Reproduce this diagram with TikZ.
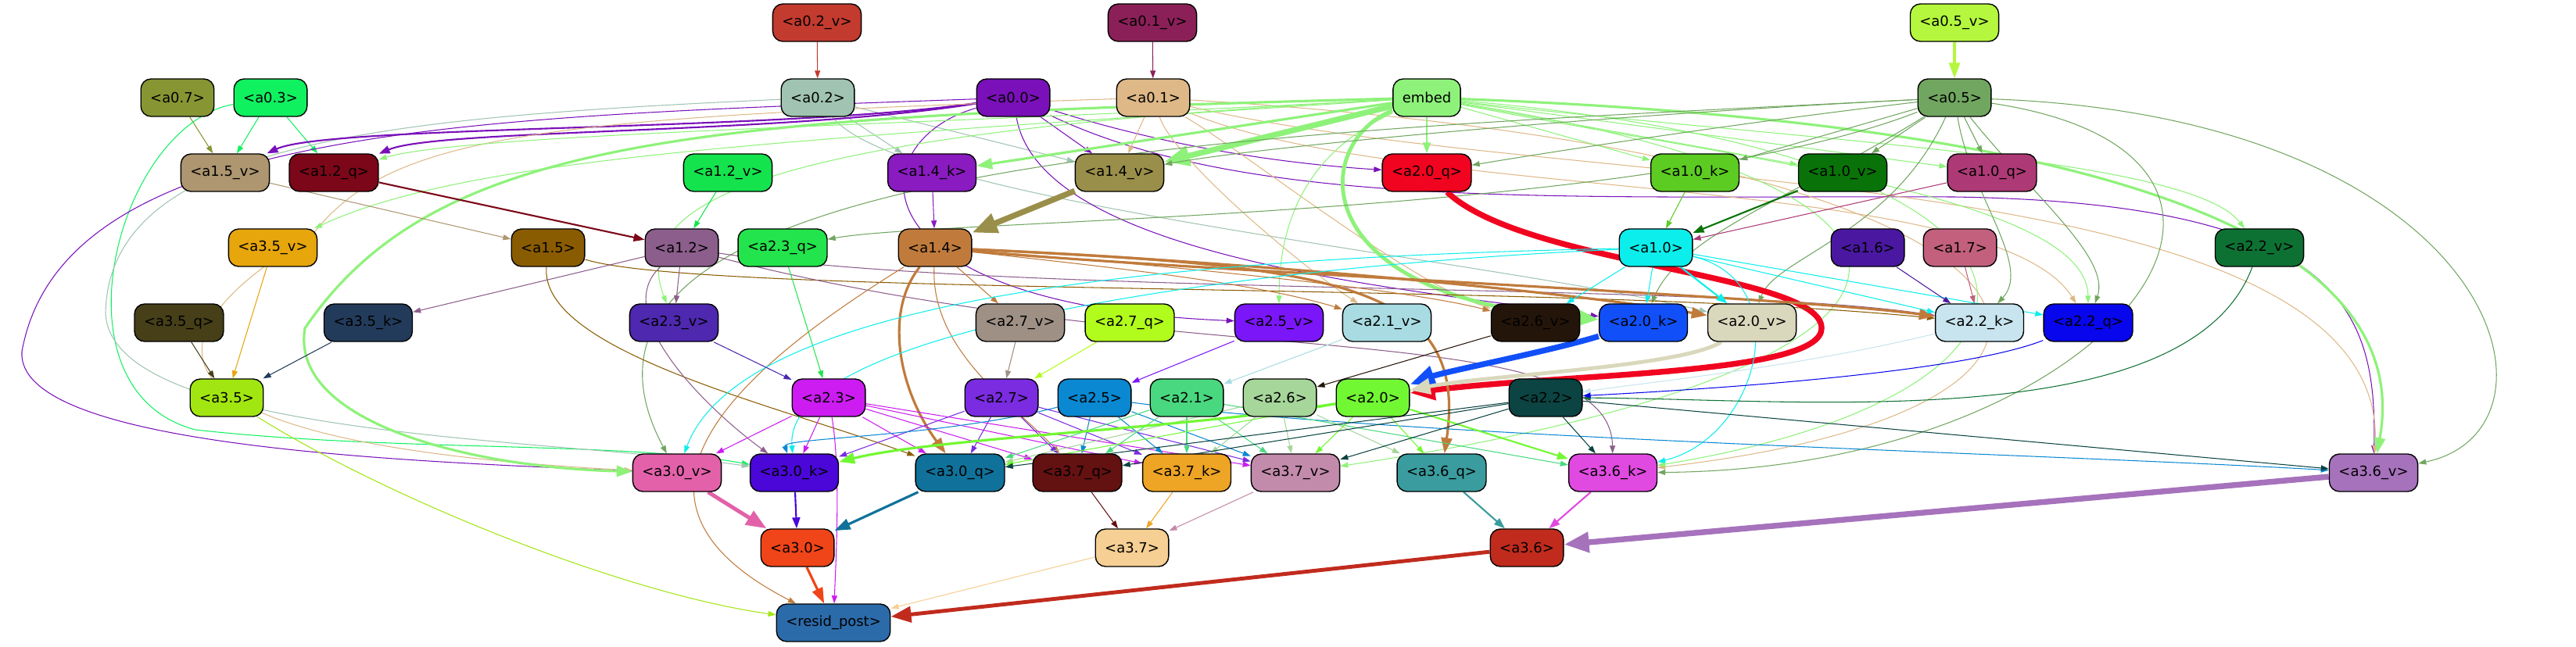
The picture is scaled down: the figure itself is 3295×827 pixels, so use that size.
\documentclass[tikz,border=0pt]{standalone}
\usepackage{fontspec}
\setmainfont{DejaVu Sans}
\usetikzlibrary{arrows.meta}
\pgfdeclarelayer{background}
\pgfsetlayers{background,main}

% node colours (edges take the colour of their source)
\definecolor{c02v}{HTML}{C33A2E}
\definecolor{c01v}{HTML}{8B2058}
\definecolor{c05v}{HTML}{B4F73E}
\definecolor{c07}{HTML}{879633}
\definecolor{c03}{HTML}{10F160}
\definecolor{c02}{HTML}{A0C4B1}
\definecolor{c00}{HTML}{7A10B9}
\definecolor{c01}{HTML}{DEB887}
\definecolor{cemb}{HTML}{8EF27A}
\definecolor{c05}{HTML}{71A660}
\definecolor{c15v}{HTML}{AD9670}
\definecolor{c12q}{HTML}{7C0719}
\definecolor{c12v}{HTML}{14E34E}
\definecolor{c14k}{HTML}{8A1BC0}
\definecolor{c14v}{HTML}{9A8F4A}
\definecolor{c20q}{HTML}{F0041F}
\definecolor{c10k}{HTML}{5CCB22}
\definecolor{c10v}{HTML}{097309}
\definecolor{c10q}{HTML}{AD3A76}
\definecolor{c35v}{HTML}{E6A60C}
\definecolor{c15}{HTML}{8A5C01}
\definecolor{c12}{HTML}{8C5E8C}
\definecolor{c23q}{HTML}{23E44C}
\definecolor{c14}{HTML}{C07B3C}
\definecolor{c10}{HTML}{0CEEEC}
\definecolor{c16}{HTML}{4A18A0}
\definecolor{c17}{HTML}{C3607E}
\definecolor{c22v}{HTML}{0E7134}
\definecolor{c35q}{HTML}{463F18}
\definecolor{c35k}{HTML}{233B5B}
\definecolor{c23v}{HTML}{4E28AF}
\definecolor{c27v}{HTML}{9E9084}
\definecolor{c27q}{HTML}{B1FB1D}
\definecolor{c25v}{HTML}{7A16F8}
\definecolor{c21v}{HTML}{A8DCE2}
\definecolor{c26v}{HTML}{24150A}
\definecolor{c20k}{HTML}{1150F9}
\definecolor{c20v}{HTML}{DAD8BC}
\definecolor{c22k}{HTML}{C8E4EE}
\definecolor{c22q}{HTML}{0806EC}
\definecolor{c35}{HTML}{A1E611}
\definecolor{c23}{HTML}{CC1CF1}
\definecolor{c27}{HTML}{7B2BE0}
\definecolor{c25}{HTML}{0A88D2}
\definecolor{c21}{HTML}{49D87F}
\definecolor{c26}{HTML}{A6D69A}
\definecolor{c20}{HTML}{72F833}
\definecolor{c22}{HTML}{0B4442}
\definecolor{c30v}{HTML}{E261A9}
\definecolor{c30k}{HTML}{4A07D8}
\definecolor{c30q}{HTML}{10729A}
\definecolor{c37q}{HTML}{641111}
\definecolor{c37k}{HTML}{EEA425}
\definecolor{c37v}{HTML}{C38BAB}
\definecolor{c36q}{HTML}{3A9C9E}
\definecolor{c36k}{HTML}{E04AE0}
\definecolor{c36v}{HTML}{A672BC}
\definecolor{c30}{HTML}{F04419}
\definecolor{c37}{HTML}{F5CF93}
\definecolor{c36}{HTML}{C12B1D}
\definecolor{crp}{HTML}{2B6BAA}

\begin{document}
\begin{tikzpicture}[x=0.01cm, y=-0.01cm,
        nd/.style = {rectangle, draw=black, line width=0.4pt, rounded corners=0.13cm, minimum height=0.48cm, inner xsep=0.12cm, inner ysep=0pt, font=\fontsize{5.1}{6}\selectfont},
        ed/.style = {line width=0.3pt, -{Triangle[length=0.1cm, width=0.07cm]}},
        edb/.style = {line width=0.6pt, -{Triangle[length=0.14cm, width=0.1cm]}},
        edc/.style = {line width=0.9pt, -{Triangle[length=0.2cm, width=0.14cm]}},
        edd/.style = {line width=1.4pt, -{Triangle[length=0.26cm, width=0.2cm]}},
        ede/.style = {line width=2.1pt, -{Triangle[length=0.32cm, width=0.25cm]}}
    ]
    \useasboundingbox (0,0) rectangle (3295,827);

    % ================= ROW 0 / ROW 1 =================
    \node[nd, fill=c02v] (a02v) at (1045,29) {<a0.2\_v>};
    \node[nd, fill=c01v] (a01v) at (1474,29) {<a0.1\_v>};
    \node[nd, fill=c05v] (a05v) at (2500,29) {<a0.5\_v>};
    %
    \node[nd, fill=c07] (a07) at (227,125) {<a0.7>};
    \node[nd, fill=c03] (a03) at (346,125) {<a0.3>};
    \node[nd, fill=c02] (a02) at (1046,125) {<a0.2>};
    \node[nd, fill=c00] (a00) at (1296,125) {<a0.0>};
    \node[nd, fill=c01] (a01) at (1475,125) {<a0.1>};
    \node[nd, fill=cemb] (emb) at (1825,125) {embed};
    \node[nd, fill=c05] (a05) at (2500,125) {<a0.5>};

    % ================= ROW 2 / ROW 3 =================
    \node[nd, fill=c15v] (a15v) at (288,221) {<a1.5\_v>};
    \node[nd, fill=c12q] (a12q) at (427,221) {<a1.2\_q>};
    \node[nd, fill=c12v] (a12v) at (931,221) {<a1.2\_v>};
    \node[nd, fill=c14k] (a14k) at (1192,221) {<a1.4\_k>};
    \node[nd, fill=c14v] (a14v) at (1432,221) {<a1.4\_v>};
    \node[nd, fill=c20q] (a20q) at (1825,221) {<a2.0\_q>};
    \node[nd, fill=c10k] (a10k) at (2168,221) {<a1.0\_k>};
    \node[nd, fill=c10v] (a10v) at (2357,221) {<a1.0\_v>};
    \node[nd, fill=c10q] (a10q) at (2548,221) {<a1.0\_q>};
    %
    \node[nd, fill=c35v] (a35v) at (349,317) {<a3.5\_v>};
    \node[nd, fill=c15] (a15) at (701,317) {<a1.5>};
    \node[nd, fill=c12] (a12) at (872,317) {<a1.2>};
    \node[nd, fill=c23q] (a23q) at (1001,317) {<a2.3\_q>};
    \node[nd, fill=c14] (a14) at (1196,317) {<a1.4>};
    \node[nd, fill=c10] (a10) at (2118,317) {<a1.0>};
    \node[nd, fill=c16] (a16) at (2389,317) {<a1.6>};
    \node[nd, fill=c17] (a17) at (2507,317) {<a1.7>};
    \node[nd, fill=c22v] (a22v) at (2890,317) {<a2.2\_v>};

    % ================= ROW 4 / ROW 5 =================
    \node[nd, fill=c35q] (a35q) at (229,413) {<a3.5\_q>};
    \node[nd, fill=c35k] (a35k) at (471,413) {<a3.5\_k>};
    \node[nd, fill=c23v] (a23v) at (862,413) {<a2.3\_v>};
    \node[nd, fill=c27v] (a27v) at (1305,413) {<a2.7\_v>};
    \node[nd, fill=c27q] (a27q) at (1445,413) {<a2.7\_q>};
    \node[nd, fill=c25v] (a25v) at (1636,413) {<a2.5\_v>};
    \node[nd, fill=c21v] (a21v) at (1774,413) {<a2.1\_v>};
    \node[nd, fill=c26v] (a26v) at (1964,413) {<a2.6\_v>};
    \node[nd, fill=c20k] (a20k) at (2102,413) {<a2.0\_k>};
    \node[nd, fill=c20v] (a20v) at (2241,413) {<a2.0\_v>};
    \node[nd, fill=c22k] (a22k) at (2532,413) {<a2.2\_k>};
    \node[nd, fill=c22q] (a22q) at (2671,413) {<a2.2\_q>};
    %
    \node[nd, fill=c35] (a35) at (290,509) {<a3.5>};
    \node[nd, fill=c23] (a23) at (1060,509) {<a2.3>};
    \node[nd, fill=c27] (a27) at (1281,509) {<a2.7>};
    \node[nd, fill=c25] (a25) at (1400,509) {<a2.5>};
    \node[nd, fill=c21] (a21) at (1518,509) {<a2.1>};
    \node[nd, fill=c26] (a26) at (1637,509) {<a2.6>};
    \node[nd, fill=c20] (a20) at (1756,509) {<a2.0>};
    \node[nd, fill=c22] (a22) at (1977,509) {<a2.2>};

    % ================= ROW 6 - ROW 8 =================
    \node[nd, fill=c30v] (a30v) at (866,605) {<a3.0\_v>};
    \node[nd, fill=c30k] (a30k) at (1016,605) {<a3.0\_k>};
    \node[nd, fill=c30q] (a30q) at (1228,605) {<a3.0\_q>};
    \node[nd, fill=c37q] (a37q) at (1378,605) {<a3.7\_q>};
    \node[nd, fill=c37k] (a37k) at (1518,605) {<a3.7\_k>};
    \node[nd, fill=c37v] (a37v) at (1657,605) {<a3.7\_v>};
    \node[nd, fill=c36q] (a36q) at (1844,605) {<a3.6\_q>};
    \node[nd, fill=c36k] (a36k) at (2063,605) {<a3.6\_k>};
    \node[nd, fill=c36v] (a36v) at (3036,605) {<a3.6\_v>};
    %
    \node[nd, fill=c30] (a30) at (1020,701) {<a3.0>};
    \node[nd, fill=c37] (a37) at (1448,701) {<a3.7>};
    \node[nd, fill=c36] (a36) at (1953,701) {<a3.6>};
    \node[nd, fill=crp] (rp) at (1066,797) {<resid\_post>};

    \begin{pgfonlayer}{background}
    % ================= EDGES FROM THE TOP ROWS =================
    \draw[ed, c02v] (a02v) -- (a02);
    \draw[ed, c01v] (a01v) -- (a01);
    \draw[edc, c05v] (a05v) -- (a05);
    \draw[ed, c07] (a07) -- (a15v);
    \draw[ed, c03] (a03) -- (a15v);
    \draw[ed, c03] (a03) -- (a12q);
    \draw[ed, c03] (a03) .. controls (150,160) and (60,500) .. (250,550) .. controls (500,578) and (800,565) .. (a30k);
    % a0.2
    \draw[ed, c02] (a02) -- (a14k);
    \draw[ed, c02] (a02) -- (a14v);
    \draw[ed, c02] (a02) .. controls (500,150) and (140,180) .. (135,400) .. controls (140,560) and (700,560) .. (a30k);
    \draw[ed, c02] (a02) .. controls (1150,260) and (1900,330) .. (a20v);
    % a0.0
    \draw[edb, c00] (a00) .. controls (1000,168) and (420,160) .. (a15v);
    \draw[edb, c00] (a00) .. controls (1000,172) and (560,165) .. (a12q);
    \draw[ed, c00] (a00) -- (a14v);
    \draw[ed, c00] (a00) .. controls (1500,190) and (1650,210) .. (a20q);
    \draw[ed, c00] (a00) .. controls (1100,180) and (1080,390) .. (a25v);
    \draw[ed, c00] (a00) .. controls (1330,330) and (1800,370) .. (a20k);
    \draw[ed, c00] (a00) .. controls (600,150) and (80,160) .. (28,450) .. controls (20,570) and (500,590) .. (a30v);
    \draw[ed, c00] (a00) .. controls (1600,270) and (2000,250) .. (2500,252) .. controls (3000,260) and (3040,400) .. (a36v);
    % a0.1
    \draw[ed, c01] (a01) -- (a14v);
    \draw[ed, c01] (a01) .. controls (700,150) and (500,170) .. (400,300) .. controls (150,450) and (200,570) .. (a30v);
    \draw[ed, c01] (a01) .. controls (1500,200) and (1650,330) .. (a21v);
    \draw[ed, c01] (a01) .. controls (1600,200) and (1800,360) .. (a26v);
    \draw[ed, c01] (a01) .. controls (1800,260) and (2550,220) .. (a22q);
    \draw[ed, c01] (a01) .. controls (2700,200) and (2800,520) .. (a36k);
    \draw[ed, c01] (a01) .. controls (2000,250) and (3060,200) .. (a36v);
    % embed
    \draw[edc, cemb] (emb) -- (a14k);
    \draw[ede, cemb] (emb) -- (a14v);
    \draw[edb, cemb] (emb) -- (a20q);
    \draw[ed, cemb] (emb) -- (a10k);
    \draw[ed, cemb] (emb) -- (a10v);
    \draw[ed, cemb] (emb) -- (a10q);
    \draw[ed, cemb] (emb) .. controls (1200,160) and (600,170) .. (a12q);
    \draw[ed, cemb] (emb) .. controls (1000,180) and (600,200) .. (a35v);
    \draw[ed, cemb] (emb) .. controls (1000,170) and (800,250) .. (a23v);
    \draw[edc, cemb] (emb) .. controls (900,150) and (560,170) .. (390,420) .. controls (370,540) and (600,598) .. (a30v);
    \draw[edd, cemb] (emb) .. controls (1680,180) and (1660,380) .. (a20k);
    \draw[ed, cemb] (emb) .. controls (1660,200) and (1636,300) .. (a25v);
    \draw[ed, cemb] (emb) .. controls (2300,180) and (2800,200) .. (a22v);
    \draw[ed, cemb] (emb) .. controls (2200,200) and (2670,250) .. (a22q);
    \draw[ed, cemb] (emb) .. controls (2700,200) and (2700,500) .. (a36k);
    \draw[ed, cemb] (emb) .. controls (2600,250) and (2500,480) .. (a37v);
    \draw[edc, cemb] (emb) .. controls (2500,150) and (3100,250) .. (a36v);
    % a0.5
    \draw[ed, c05] (a05) -- (a10k);
    \draw[ed, c05] (a05) -- (a10v);
    \draw[ed, c05] (a05) -- (a10q);
    \draw[ed, c05] (a05) .. controls (2000,150) and (1600,190) .. (a14v);
    \draw[ed, c05] (a05) .. controls (2200,160) and (1950,200) .. (a20q);
    \draw[ed, c05] (a05) .. controls (2100,280) and (1200,280) .. (a23q);
    \draw[ed, c05] (a05) .. controls (1600,170) and (650,200) .. (a30v);
    \draw[ed, c05] (a05) .. controls (2300,250) and (2150,300) .. (a20k);
    \draw[ed, c05] (a05) .. controls (2420,300) and (2270,330) .. (a20v);
    \draw[ed, c05] (a05) .. controls (2520,250) and (2600,340) .. (a22k);
    \draw[ed, c05] (a05) .. controls (2600,250) and (2700,330) .. (a22q);
    \draw[ed, c05] (a05) .. controls (3000,200) and (2700,600) .. (a36k);
    \draw[ed, c05] (a05) .. controls (3200,150) and (3300,550) .. (a36v);

    % ================= EDGES FROM ROWS 2 AND 3 =================
    \draw[ed, c15v] (a15v) -- (a15);
    \draw[edb, c12q] (a12q) -- (a12);
    \draw[ed, c12v] (a12v) -- (a12);
    \draw[ed, c14k] (a14k) -- (a14);
    \draw[ede, c14v] (a14v) -- (a14);
    \draw[ede, c20q] (a20q) .. controls (1950,340) and (2330,350) .. (2330,420) .. controls (2330,480) and (2000,478) .. (a20);
    \draw[ed, c10k] (a10k) -- (a10);
    \draw[edb, c10v] (a10v) -- (a10);
    \draw[ed, c10q] (a10q) -- (a10);
    \draw[ed, c35v] (a35v) -- (a35);
    % a1.5
    \draw[ed, c15] (a15) .. controls (690,450) and (1000,520) .. (a30q);
    \draw[ed, c15] (a15) .. controls (900,380) and (2000,360) .. (a22k);
    % a1.2
    \draw[ed, c12] (a12) -- (a35k);
    \draw[ed, c12] (a12) -- (a23v);
    \draw[ed, c12] (a12) .. controls (780,400) and (900,520) .. (a30k);
    \draw[ed, c12] (a12) .. controls (1300,380) and (2200,360) .. (a22k);
    \draw[ed, c12] (a12) .. controls (1500,480) and (2060,400) .. (a36k);
    % a1.4
    \draw[ed, c14] (a14) -- (a27v);
    \draw[ed, c14] (a14) .. controls (1400,340) and (1600,360) .. (a21v);
    \draw[ed, c14] (a14) .. controls (1500,340) and (1800,370) .. (a26v);
    \draw[edc, c14] (a14) .. controls (1500,330) and (1950,365) .. (a20v);
    \draw[edc, c14] (a14) .. controls (1500,345) and (2300,380) .. (a22k);
    \draw[edc, c14] (a14) .. controls (1130,400) and (1150,500) .. (a30q);
    \draw[edc, c14] (a14) .. controls (1700,340) and (1880,360) .. (a36q);
    \draw[ed, c14] (a14) .. controls (1190,450) and (1300,520) .. (a37q);
    \draw[ed, c14] (a14) .. controls (900,500) and (780,650) .. (rp);
    % a2.3_q, a1.0, a1.6, a1.7, a2.2_v
    \draw[ed, c23q] (a23q) -- (a23);
    \draw[ed, c10] (a10) -- (a26v);
    \draw[ed, c10] (a10) -- (a20k);
    \draw[edb, c10] (a10) -- (a20v);
    \draw[ed, c10] (a10) -- (a22k);
    \draw[ed, c10] (a10) -- (a22q);
    \draw[ed, c10] (a10) .. controls (1500,330) and (950,380) .. (a30v);
    \draw[ed, c10] (a10) .. controls (1600,340) and (1000,420) .. (a30k);
    \draw[ed, c10] (a10) .. controls (2300,360) and (2250,560) .. (a36k);
    \draw[ed, c16] (a16) -- (a22k);
    \draw[ed, c17] (a17) -- (a22k);
    \draw[ed, c22v] (a22v) .. controls (2800,560) and (2300,510) .. (a22);

    % ================= EDGES FROM ROW 4 =================
    \draw[ed, c35q] (a35q) -- (a35);
    \draw[ed, c35k] (a35k) -- (a35);
    \draw[ed, c23v] (a23v) -- (a23);
    \draw[ed, c27v] (a27v) -- (a27);
    \draw[ed, c27q] (a27q) -- (a27);
    \draw[ed, c25v] (a25v) -- (a25);
    \draw[ed, c21v] (a21v) -- (a21);
    \draw[ed, c26v] (a26v) -- (a26);
    \draw[ede, c20k] (a20k) .. controls (1980,450) and (1850,475) .. (a20);
    \draw[edd, c20v] (a20v) .. controls (2150,470) and (1900,480) .. (a20);
    \draw[ed, c22k] (a22k) .. controls (2300,470) and (2100,490) .. (a22);
    \draw[ed, c22q] (a22q) .. controls (2500,480) and (2150,500) .. (a22);

    % ================= EDGES FROM ROW 5 =================
    \draw[ed, c35] (a35) .. controls (500,640) and (800,760) .. (rp);
    \draw[ed, c23] (a23) -- (a30v);
    \draw[ed, c23] (a23) -- (a30k);
    \draw[ed, c23] (a23) -- (a30q);
    \draw[ed, c23] (a23) -- (a37q);
    \draw[ed, c23] (a23) -- (a37k);
    \draw[ed, c23] (a23) -- (a37v);
    \draw[ed, c23] (a23) .. controls (1075,600) and (1070,700) .. (rp);
    \draw[ed, c27] (a27) -- (a30k);
    \draw[ed, c27] (a27) -- (a30q);
    \draw[ed, c27] (a27) -- (a37q);
    \draw[ed, c27] (a27) -- (a37k);
    \draw[ed, c27] (a27) -- (a37v);
    \draw[ed, c25] (a25) .. controls (1200,560) and (1000,560) .. (a30k);
    \draw[ed, c25] (a25) -- (a37q);
    \draw[ed, c25] (a25) -- (a37k);
    \draw[ed, c25] (a25) -- (a37v);
    \draw[ed, c25] (a25) .. controls (1800,560) and (2600,580) .. (a36v);
    \draw[ed, c21] (a21) -- (a30q);
    \draw[ed, c21] (a21) -- (a37q);
    \draw[ed, c21] (a21) -- (a37k);
    \draw[ed, c21] (a21) -- (a37v);
    \draw[ed, c21] (a21) -- (a36k);
    \draw[ed, c26] (a26) -- (a30q);
    \draw[ed, c26] (a26) -- (a37k);
    \draw[ed, c26] (a26) -- (a37v);
    \draw[ed, c26] (a26) -- (a36q);
    \draw[edc, c20] (a20) .. controls (1500,550) and (1200,560) .. (a30k);
    \draw[ed, c20] (a20) -- (a30q);
    \draw[ed, c20] (a20) -- (a37v);
    \draw[ed, c20] (a20) -- (a36q);
    \draw[edb, c20] (a20) -- (a36k);
    \draw[ed, c22] (a22) -- (a30q);
    \draw[ed, c22] (a22) -- (a37q);
    \draw[ed, c22] (a22) -- (a37v);
    \draw[ed, c22] (a22) -- (a36k);
    \draw[ed, c22] (a22) -- (a36v);

    % ================= EDGES FROM ROWS 6 AND 7 =================
    \draw[edd, c30v] (a30v) -- (a30);
    \draw[edb, c30k] (a30k) -- (a30);
    \draw[edc, c30q] (a30q) -- (a30);
    \draw[ed, c37q] (a37q) -- (a37);
    \draw[ed, c37k] (a37k) -- (a37);
    \draw[ed, c37v] (a37v) -- (a37);
    \draw[edb, c36q] (a36q) -- (a36);
    \draw[edb, c36k] (a36k) -- (a36);
    \draw[ede, c36v] (a36v) -- (a36);
    \draw[edc, c30] (a30) -- (rp);
    \draw[ed, c37] (a37) -- (rp);
    \draw[edd, c36] (a36) -- (rp);
    \end{pgfonlayer}

\end{tikzpicture}
\end{document}
